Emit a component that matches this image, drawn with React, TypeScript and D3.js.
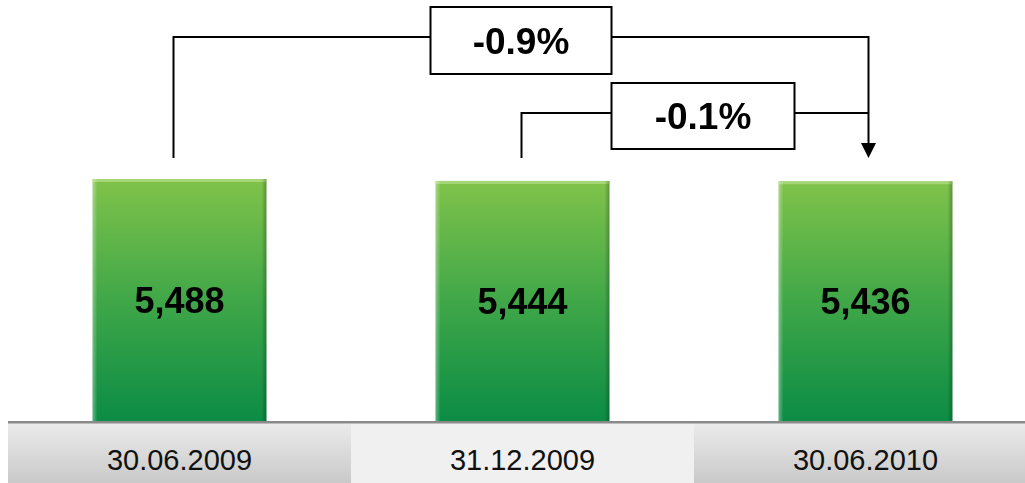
import * as d3 from "d3";

const categories = ["30.06.2009", "31.12.2009", "30.06.2010"];
const values = [5488, 5444, 5436];
const valueLabels = ["5,488", "5,444", "5,436"];
// change annotations: from category -> to category
const changes = [
  { from: "30.06.2009", to: "30.06.2010", label: "-0.9%" },
  { from: "31.12.2009", to: "30.06.2010", label: "-0.1%" },
];

const width = 1025;
const height = 483;
const baseline = 421;

export default function App() {
  const x = d3.scaleBand<string>().domain(categories).range([8, 1037]).padding(0);
  const barW = x.step() * 0.507;
  const y = d3.scaleLinear().domain([0, d3.max(values) as number]).range([baseline, 179]);
  const cx = (c: string) => (x(c) as number) + x.bandwidth() / 2;

  const topY = y(d3.max(values) as number);
  const startY = topY - 21;
  const tipX = cx(changes[0].to) + 3;

  // annotation 1 (long)
  const a1 = { lineY: 37, boxY: 7, boxH: 67, boxX: cx(categories[1]) - 92, boxW: 181 };
  // annotation 2 (short)
  const a2 = { lineY: 113, boxY: 83, boxH: 66, boxX: cx(categories[1]) + 89, boxW: 183 };

  return (
    <div style={{ position: "fixed", left: 0, top: 0 }}>
      <svg width={width} height={height} style={{ display: "block", fontFamily: "Arial, 'Liberation Sans', sans-serif" }}>
        <defs>
          <linearGradient id="barGrad" x1="0" y1="0" x2="0" y2="1">
            <stop offset="0%" stopColor="#80c34a" />
            <stop offset="50%" stopColor="#40a748" />
            <stop offset="100%" stopColor="#0b8c45" />
          </linearGradient>
          <linearGradient id="bandGrad" x1="0" y1="0" x2="0" y2="1">
            <stop offset="0%" stopColor="#ececec" />
            <stop offset="100%" stopColor="#c9c9c9" />
          </linearGradient>
          <linearGradient id="leftEdge" x1="0" y1="0" x2="1" y2="0">
            <stop offset="0%" stopColor="#ffffff" stopOpacity={0.35} />
            <stop offset="100%" stopColor="#ffffff" stopOpacity={0} />
          </linearGradient>
          <linearGradient id="rightEdge" x1="0" y1="0" x2="1" y2="0">
            <stop offset="0%" stopColor="#000000" stopOpacity={0} />
            <stop offset="100%" stopColor="#000000" stopOpacity={0.25} />
          </linearGradient>
        </defs>

        {/* category band */}
        {categories.map((c, i) => (
          <rect
            key={c}
            x={x(c)}
            y={baseline}
            width={x.bandwidth()}
            height={height - baseline}
            fill={i === 1 ? "#f0f0f0" : "url(#bandGrad)"}
          />
        ))}
        <rect x={8} y={baseline} width={width - 8} height={2.5} fill="#8a8a8a" />
        {categories.map((c) => (
          <text key={c} x={cx(c)} y={470} textAnchor="middle" fontSize={29} fill="#111">
            {c}
          </text>
        ))}

        {/* bars */}
        {categories.map((c, i) => {
          const bx = cx(c) - barW / 2;
          const by = y(values[i]);
          const bh = baseline - by;
          return (
            <g key={c}>
              <rect x={bx} y={by} width={barW} height={bh} fill="url(#barGrad)" />
              <rect x={bx} y={by} width={barW} height={3} fill="#b5e08a" opacity={0.7} />
              <rect x={bx} y={by} width={5} height={bh} fill="url(#leftEdge)" />
              <rect x={bx + barW - 5} y={by} width={5} height={bh} fill="url(#rightEdge)" />
              <text x={cx(c)} y={by + bh / 2 + 13} textAnchor="middle" fontSize={36} fontWeight="bold" fill="#000">
                {valueLabels[i]}
              </text>
            </g>
          );
        })}

        {/* change connectors */}
        <g stroke="#000" strokeWidth={2} fill="none">
          <polyline points={`${cx(changes[0].from) - 6},${startY} ${cx(changes[0].from) - 6},${a1.lineY} ${a1.boxX},${a1.lineY}`} />
          <polyline points={`${a1.boxX + a1.boxW},${a1.lineY} ${tipX},${a1.lineY} ${tipX},${startY - 15}`} />
          <polyline points={`${cx(changes[1].from) - 1},${startY} ${cx(changes[1].from) - 1},${a2.lineY} ${a2.boxX},${a2.lineY}`} />
          <line x1={a2.boxX + a2.boxW} y1={a2.lineY} x2={tipX} y2={a2.lineY} />
        </g>
        <path d={`M${tipX - 7.5},${startY - 15} L${tipX + 7.5},${startY - 15} L${tipX},${startY} Z`} fill="#000" />

        {[a1, a2].map((a, i) => (
          <g key={i}>
            <rect x={a.boxX} y={a.boxY} width={a.boxW} height={a.boxH} fill="#fff" stroke="#000" strokeWidth={2} />
            <text
              x={a.boxX + a.boxW / 2}
              y={a.boxY + a.boxH / 2 + 13}
              textAnchor="middle"
              fontSize={37}
              fontWeight="bold"
              fill="#000"
            >
              {changes[i].label}
            </text>
          </g>
        ))}
      </svg>
    </div>
  );
}
